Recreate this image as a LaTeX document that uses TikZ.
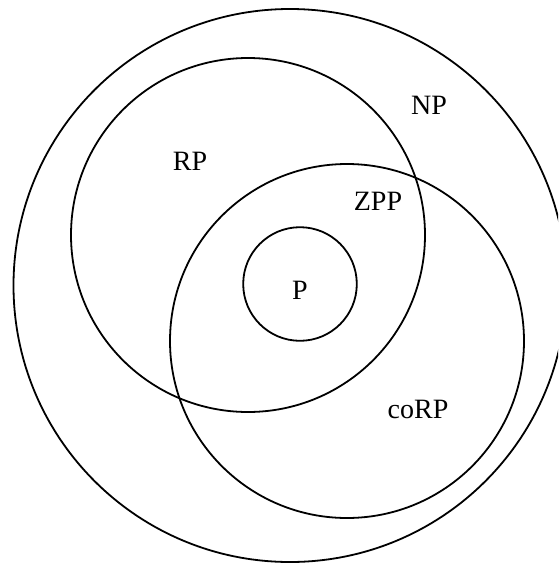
\documentclass[tikz,border=0pt]{standalone}
\usepackage{fontspec}
\setmainfont{Liberation Serif}
\usepackage{tikz}

\begin{document}
\begin{tikzpicture}[x=1pt,y=-1pt,line width=1.8pt,
  every node/.style={font=\fontsize{28}{34}\selectfont,inner sep=0pt}]
\useasboundingbox (0,0) rectangle (558,563);
\begin{scope}
\clip (0,0) rectangle (558,563);
\draw (290,285.5) circle (276.5);
\draw (248,235) circle (177);
\draw (347,341) circle (177);
\draw (300,284) circle (56.8);
\end{scope}
\node (np) at (429,105) {NP};
\node (rp) at (190,161) {RP};
\node (zpp) at (378,201) {ZPP};
\node (p) at (300,290) {P};
\node (corp) at (418,409) {coRP};
\end{tikzpicture}
\end{document}
